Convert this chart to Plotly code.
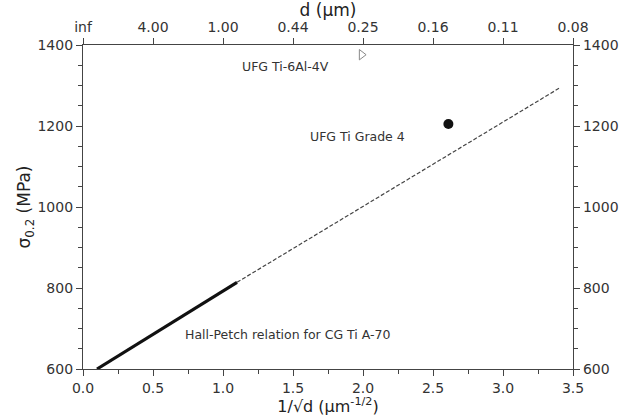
import plotly.graph_objects as go

# Data
hp_solid_x = [0.1, 1.1]
hp_solid_y = [600, 814]
hp_dash_x = [1.1, 3.4]
hp_dash_y = [814, 1293]
grade4_x = [2.61]
grade4_y = [1205]
ti64_x = [1.99]
ti64_y = [1376]
top_tickvals = [0, 0.5, 1.0, 1.5, 2.0, 2.5, 3.0, 3.5]
top_ticktext = ["inf", "4.00", "1.00", "0.44", "0.25", "0.16", "0.11", "0.08"]
labels = ["UFG Ti-6Al-4V", "UFG Ti Grade 4", "Hall-Petch relation for CG Ti A-70"]
label_x = [1.12, 1.607, 0.714]
label_y = [1348, 1174, 686]

FONT = "DejaVu Sans"
TC = "#333333"
AC = "#444444"

fig = go.Figure()
fig.add_trace(go.Scatter(x=hp_dash_x, y=hp_dash_y, mode="lines",
                         line=dict(color="#444444", width=1.2, dash="4px,2px"),
                         hoverinfo="skip", showlegend=False))
fig.add_trace(go.Scatter(x=hp_solid_x, y=hp_solid_y, mode="lines",
                         line=dict(color="#111111", width=3.2),
                         showlegend=False))
fig.add_trace(go.Scatter(x=grade4_x, y=grade4_y, mode="markers",
                         marker=dict(symbol="circle", size=10, color="#111111"),
                         showlegend=False))
fig.add_trace(go.Scatter(x=ti64_x, y=ti64_y, mode="markers",
                         marker=dict(symbol="triangle-right-open", size=9,
                                     color="#888888", line=dict(width=1)),
                         showlegend=False))
# invisible traces to anchor secondary axes
fig.add_trace(go.Scatter(x=[0, 3.5], y=[600, 1400], xaxis="x2", yaxis="y2",
                         mode="lines", line=dict(width=0), opacity=0,
                         hoverinfo="skip", showlegend=False))

for t, xx, yy in zip(labels, label_x, label_y):
    fig.add_annotation(x=xx, y=yy, text=t, showarrow=False, xanchor="left",
                       font=dict(family=FONT, size=12.5, color=TC))

common = dict(showline=True, linecolor=AC, linewidth=1.3, ticks="outside",
              tickcolor=AC, ticklen=6, tickwidth=1.3, showgrid=False, zeroline=False,
              automargin=False,
              tickfont=dict(family=FONT, size=14, color=TC))
minor_common = dict(ticks="outside", ticklen=4, tickwidth=1.3, tickcolor=AC, showgrid=False)
TF = dict(family=FONT, size=17, color="#222222")

fig.update_layout(
    width=632, height=416,
    margin=dict(l=83, r=59, t=45, b=47),
    paper_bgcolor="white", plot_bgcolor="white",
    xaxis=dict(range=[0, 3.5], tickmode="linear", tick0=0, dtick=0.5,
               tickformat=".1f",
               minor=dict(dtick=0.25, tick0=0, **minor_common),
               title=dict(text="1/√d (μm<sup>-1/2</sup>)", standoff=3,
                          font=dict(family=FONT, size=16, color="#222222")),
               **common),
    xaxis2=dict(range=[0, 3.5], overlaying="x", side="top", anchor="y",
                tickmode="array", tickvals=top_tickvals, ticktext=top_ticktext,
                title=dict(text="d (μm)", standoff=0, font=TF),
                **common),
    yaxis=dict(range=[600, 1400], tickmode="linear", dtick=200, tick0=600,
               minor=dict(dtick=50, tick0=600, **minor_common),
               title=dict(text="σ<sub>0.2</sub> (MPa)", standoff=2, font=TF),
               **common),
    yaxis2=dict(range=[600, 1400], tickmode="linear", dtick=200, tick0=600,
                overlaying="y", side="right", anchor="x",
                minor=dict(dtick=50, tick0=600, **minor_common),
                **common),
)

fig.write_html("out.html")
